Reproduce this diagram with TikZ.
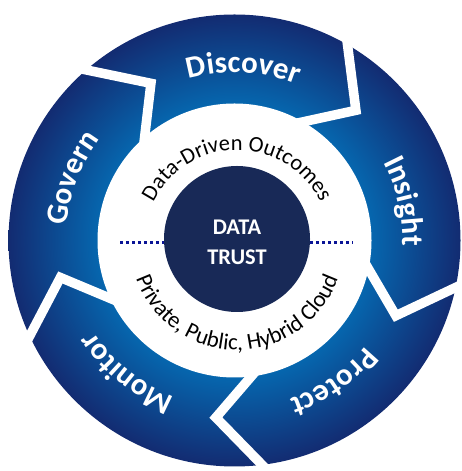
\documentclass[tikz,border=0pt]{standalone}
\usepackage{fontspec}
\setmainfont{Carlito}
\usetikzlibrary{calc,decorations.text}
\definecolor{ringdark}{HTML}{132A70}
\definecolor{ringlight}{HTML}{0666AE}
\definecolor{coredark}{HTML}{182957}
\definecolor{dotblue}{HTML}{0A1496}
\pgfdeclareradialshading{ringshade}{\pgfpoint{0bp}{0bp}}{color(0bp)=(ringlight); color(137bp)=(ringlight); color(228bp)=(ringdark); color(240bp)=(ringdark)}
\newcommand\ringfont{\color{white}\bfseries\fontsize{31}{36}\selectfont}
\newcommand\topfont{\color{black}\fontsize{22.5}{25}\selectfont}
\newcommand\botfont{\color{black}\fontsize{23}{26}\selectfont}
\tikzset{
  gapline/.style={white, line width=9.5bp, line join=miter},
  ringlabel/.style={decorate, decoration={text along path, text align=center, text={|\ringfont|#1}}},
  toplabel/.style={decorate, decoration={text along path, text align=center, text={|\topfont|#1}}},
  botlabel/.style={decorate, decoration={text along path, text align=center, text={|\botfont|#1}}},
  dotline/.style={dotblue, line width=3bp, dash pattern=on 3bp off 3bp}
}
\begin{document}
\begin{tikzpicture}[x=1bp,y=1bp]
\useasboundingbox (0,0) rectangle (462,471);
\coordinate (C) at (234.5,230.5);
\coordinate (IC) at (237,228);
% shaded ring
\begin{scope}
  \clip (C) circle[radius=226];
  \node[inner sep=0, outer sep=0] at (C) {\pgfuseshading{ringshade}};
\end{scope}
\fill[white] (C) circle[radius=137];
% chevron gaps
\foreach \b in {131,60,-12,-83,205} {
  \coordinate (o) at ($(C)+(\b:226)$);
  \coordinate (v) at ($(C)+(\b-13:178)$);
  \coordinate (i) at ($(C)+(\b:137)$);
  \draw[gapline] ($(v)!1.35!(o)$) -- (v) -- ($(v)!1.35!(i)$);
}
% ring labels
\path[ringlabel=Discover] ($(C)+(127:168)$) arc[start angle=127, end angle=47, radius=168];
\path[ringlabel=Insight] ($(C)+(53:168)$) arc[start angle=53, end angle=-27, radius=168];
\path[ringlabel=Protect] ($(C)+(-15:168)$) arc[start angle=-15, end angle=-95, radius=168];
\path[ringlabel=Monitor] ($(C)+(-89:168)$) arc[start angle=-89, end angle=-169, radius=168];
\path[ringlabel=Govern] ($(C)+(199:168)$) arc[start angle=199, end angle=119, radius=168];
% core
\node[circle, fill=coredark, minimum size=146bp, inner sep=0] (core) at (237,232) {};
\node[white, font=\bfseries\fontsize{22.5}{30}\selectfont, align=center] (coretext) at (237,229) {DATA\\TRUST};
\coordinate (dl) at (120,228);
\coordinate (dr) at (353,228);
\draw[dotline] (dl) -- (core.west |- dl);
\draw[dotline] (core.east |- dr) -- (dr);
% inner arc texts
\path[toplabel=Data-Driven Outcomes] ($(IC)+(178:93)$) arc[start angle=178, end angle=2, radius=93];
\path[botlabel={Private, Public, Hybrid Cloud}] ($(IC)+(-178:107)$) arc[start angle=-178, end angle=-2, radius=107];
\end{tikzpicture}
\end{document}
